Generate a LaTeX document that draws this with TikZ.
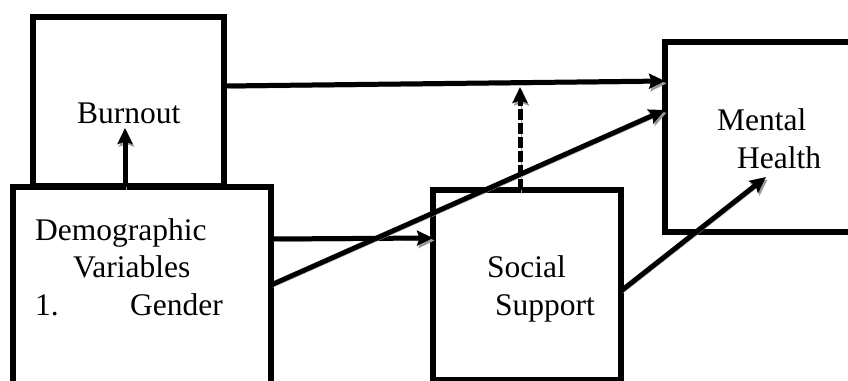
\documentclass[tikz,border=0pt]{standalone}
\usepackage{fontspec}
\setmainfont{Liberation Serif}
\usetikzlibrary{arrows.meta}
\begin{document}
\begin{tikzpicture}[x=1pt,y=-1pt,
  box/.style={draw=black, line width=5.5pt, fill=white, rectangle, inner sep=0pt, outer sep=0pt, anchor=north west},
  lbl/.style={anchor=base west, inner sep=0pt, font=\fontsize{31.5}{36}\selectfont},
  conn/.style={line width=5pt, -{Stealth[length=16pt,width=15pt,inset=2.5pt]},
    preaction={draw=black!40, transform canvas={shift={(1.5pt,-2.5pt)}}}},
  dashconn/.style={conn, dash pattern=on 11pt off 3pt}]
\path[use as bounding box] (0,0) rectangle (848,380);
\clip (0,0) rectangle (848,380);
% boxes
\node[box, minimum width=191pt, minimum height=169pt] (burnout) at (33,17) {};
\node[box, minimum width=258pt, minimum height=240pt] (demo) at (13,187) {};
\node[box, minimum width=188pt, minimum height=190pt] (social) at (433,190) {};
\node[box, minimum width=200pt, minimum height=190pt] (mental) at (665,42) {};
% free ends
\coordinate (burntip) at (125,128);
\coordinate (modpt) at (520,87);
\coordinate (mhin) at (766,177);
% connectors
\draw[conn] (demo.east |- 0,239) -- (social.west |- 0,238);
\draw[conn] (demo.east |- 0,285) -- (mental.west |- 0,110);
\draw[conn] (burnout.east |- 0,86) -- (mental.west |- 0,81);
\draw[dashconn] (520,0 |- social.north) -- (modpt);
\draw[conn] (social.east |- 0,291) -- (mhin);
\draw[conn] (125,0 |- demo.north) -- (burntip);
% labels
\node[lbl] (tburn) at (77,123) {Burnout};
\node[lbl] (tdemo1) at (35,240) {Demographic};
\node[lbl] (tdemo2) at (73,277) {Variables};
\node[lbl] (tdemo3) at (35,315) {1.};
\node[lbl] (tdemo4) at (130,315) {Gender};
\node[lbl] (tsoc1) at (487,277) {Social};
\node[lbl] (tsoc2) at (495,315) {Support};
\node[lbl] (tmen1) at (717,130) {Mental};
\node[lbl] (tmen2) at (737,168) {Health};
\end{tikzpicture}
\end{document}
